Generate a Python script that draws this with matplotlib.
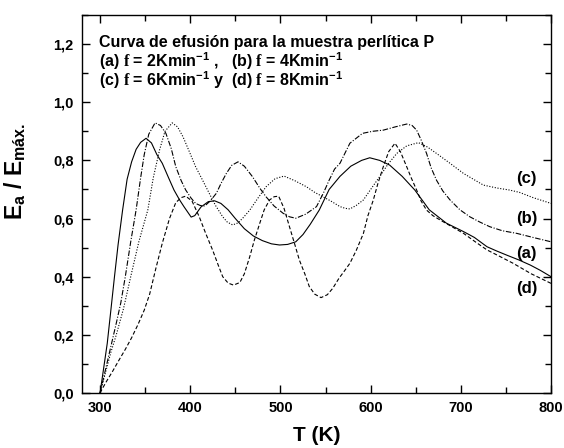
import numpy as np
import matplotlib
matplotlib.use("Agg")
import matplotlib.pyplot as plt
from matplotlib.ticker import MultipleLocator, FuncFormatter

plt.rcParams['font.family'] = ['Liberation Sans', 'DejaVu Sans']
plt.rcParams['font.weight'] = 'bold'
plt.rcParams['mathtext.fontset'] = 'custom'
plt.rcParams['mathtext.rm'] = 'Liberation Serif'
plt.rcParams['mathtext.bf'] = 'Liberation Sans:bold'
plt.rcParams['mathtext.it'] = 'Liberation Sans:bold'

# curva (a) f = 2 K/min  -- linea continua
T_a = [300, 304, 308, 312, 316, 320, 325, 330, 335, 340, 345, 351, 357, 363,
       369, 376, 382, 388, 393, 401, 405, 412, 420, 427, 434, 442, 450, 460,
       470, 480, 490, 499, 508, 517, 525, 533, 543, 554, 566, 578, 590, 599,
       610, 621, 635, 649, 665, 684, 703, 715, 729, 740, 751, 764, 777, 788, 800]
E_a = [0.0, 0.085, 0.171, 0.285, 0.40, 0.51, 0.629, 0.735, 0.795, 0.838, 0.862,
       0.876, 0.86, 0.82, 0.79, 0.74, 0.698, 0.665, 0.641, 0.605, 0.61, 0.64,
       0.658, 0.661, 0.652, 0.63, 0.60, 0.565, 0.54, 0.524, 0.513, 0.509,
       0.511, 0.52, 0.545, 0.58, 0.629, 0.70, 0.745, 0.78, 0.80, 0.809, 0.80,
       0.784, 0.745, 0.698, 0.63, 0.584, 0.555, 0.535, 0.503, 0.488, 0.474,
       0.458, 0.44, 0.422, 0.40]

# curva (b) f = 4 K/min  -- raya-punto
T_b = [300, 306, 312, 318, 323, 328, 334, 340, 345, 349, 354, 361, 367, 373,
       379, 384, 390, 395, 401, 406, 411, 416, 422, 429, 434, 440, 446, 453,
       460, 469, 477, 484, 493, 503, 510, 517, 528, 540, 548, 554, 560, 566,
       577, 591, 602, 614, 627, 640, 646, 651, 656, 662, 667, 673, 680, 688,
       699, 710, 721, 732, 746, 762, 780, 800]
E_b = [0.0, 0.08, 0.16, 0.24, 0.31, 0.40, 0.52, 0.63, 0.74, 0.82, 0.89,
       0.929, 0.92, 0.893, 0.84, 0.778, 0.73, 0.698, 0.67, 0.652, 0.645,
       0.643, 0.66, 0.687, 0.72, 0.755, 0.783, 0.795, 0.78, 0.744, 0.705,
       0.675, 0.643, 0.618, 0.606, 0.601, 0.615, 0.641, 0.69, 0.732, 0.77,
       0.79, 0.859, 0.893, 0.90, 0.904, 0.915, 0.925, 0.92, 0.904, 0.87,
       0.824, 0.775, 0.732, 0.695, 0.664, 0.63, 0.606, 0.588, 0.572, 0.558,
       0.549, 0.535, 0.52]

# curva (c) f = 6 K/min  -- punteada
T_c = [300, 306, 312, 318, 326, 334, 343, 353, 359, 366, 372, 380, 386, 392,
       399, 406, 414, 421, 428, 436, 441, 447, 453, 459, 466, 475, 484, 494,
       504, 516, 529, 538, 547, 556, 566, 572, 577, 584, 592, 600, 610, 619,
       629, 640, 653, 663, 673, 688, 703, 714, 725, 740, 754, 765, 780, 800]
E_c = [0.0, 0.07, 0.14, 0.20, 0.29, 0.40, 0.52, 0.63, 0.74, 0.836, 0.90,
       0.929, 0.915, 0.881, 0.83, 0.778, 0.73, 0.687, 0.645, 0.606, 0.588,
       0.578, 0.585, 0.604, 0.629, 0.67, 0.709, 0.737, 0.746, 0.73, 0.709,
       0.69, 0.675, 0.66, 0.641, 0.635, 0.633, 0.645, 0.664, 0.70, 0.744,
       0.786, 0.824, 0.85, 0.861, 0.846, 0.824, 0.79, 0.755, 0.735, 0.715,
       0.705, 0.698, 0.69, 0.672, 0.652]

# curva (d) f = 8 K/min  -- discontinua
T_d = [300, 306, 314, 321, 328, 335, 342, 349, 355, 362, 369, 377, 384, 390,
       395, 402, 410, 417, 425, 431, 436, 442, 448, 455, 460, 466, 471, 477,
       482, 488, 493, 498, 504, 510, 516, 521, 527, 532, 538, 545, 552, 558,
       565, 571, 577, 584, 592, 597, 603, 608, 614, 620, 627, 633, 640, 645,
       651, 656, 662, 669, 677, 690, 703, 716, 729, 743, 758, 778, 800]
E_d = [0.0, 0.034, 0.075, 0.113, 0.15, 0.19, 0.235, 0.285, 0.34, 0.43, 0.515,
       0.60, 0.655, 0.672, 0.677, 0.66, 0.606, 0.55, 0.49, 0.44, 0.40, 0.378,
       0.371, 0.38, 0.41, 0.469, 0.525, 0.583, 0.63, 0.664, 0.675, 0.677,
       0.635, 0.572, 0.51, 0.457, 0.41, 0.366, 0.34, 0.328, 0.338, 0.36,
       0.395, 0.42, 0.446, 0.49, 0.549, 0.61, 0.664, 0.72, 0.778, 0.83, 0.859,
       0.83, 0.778, 0.74, 0.698, 0.66, 0.629, 0.61, 0.595, 0.572, 0.549, 0.52,
       0.492, 0.47, 0.446, 0.41, 0.377]

curve_labels = ['(c)', '(b)', '(a)', '(d)']
label_T = [773, 773, 773, 773]
label_E = [0.736, 0.60, 0.48, 0.36]

fig = plt.figure(figsize=(5.64, 4.48), dpi=100)
ax = fig.add_axes([0.1454, 0.1228, 0.8316, 0.8437])

lw = 0.8
ax.plot(T_a, E_a, color='k', lw=lw, ls='-')
ax.plot(T_b, E_b, color='k', lw=lw, ls=(0, (5, 1.5, 1, 1.5)))
ax.plot(T_c, E_c, color='k', lw=lw, ls=(0, (1, 1.5)))
ax.plot(T_d, E_d, color='k', lw=lw, ls=(0, (3.5, 2)))

ax.set_xlim(280, 800)
ax.set_ylim(0, 1.3)
ax.xaxis.set_major_locator(MultipleLocator(100))
ax.xaxis.set_minor_locator(MultipleLocator(50))
ax.yaxis.set_major_locator(MultipleLocator(0.2))
ax.yaxis.set_minor_locator(MultipleLocator(0.1))
ax.yaxis.set_major_formatter(FuncFormatter(lambda v, p: f"{v:.1f}".replace('.', ',')))
ax.tick_params(which='both', direction='in', top=True, right=True, width=1.0,
               labelsize=10.5, pad=6)
ax.tick_params(which='major', length=6)
ax.tick_params(which='minor', length=4)
for s in ax.spines.values():
    s.set_linewidth(1.0)

ax.set_xlabel('T (K)', fontsize=15, fontweight='bold', labelpad=8)
ax.set_ylabel(r'E$_{\mathbf{a}}$ / E$_{\mathbf{máx.}}$', fontsize=16.5,
              fontweight='bold')
ax.yaxis.set_label_coords(-0.115, 0.587)

txt_lines = ['Curva de efusión para la muestra perlítica P',
             r'(a) $\mathrm{f}$ = 2Kmin$^{\mathbf{-1}}$ ,   (b) $\mathrm{f}$ = 4Kmin$^{\mathbf{-1}}$',
             r'(c) $\mathrm{f}$ = 6Kmin$^{\mathbf{-1}}$ y  (d) $\mathrm{f}$ = 8Kmin$^{\mathbf{-1}}$']
txt_y = [0.9159, 0.8635, 0.8122]
for t, y in zip(txt_lines, txt_y):
    ax.text(0.0356, y, t, transform=ax.transAxes,
            fontsize=11.5, fontweight='bold', va='baseline', ha='left')

for lab, x, y in zip(curve_labels, label_T, label_E):
    ax.text(x, y, lab, fontsize=12, fontweight='bold', ha='center', va='center')

fig.savefig('out.png', dpi=100)
